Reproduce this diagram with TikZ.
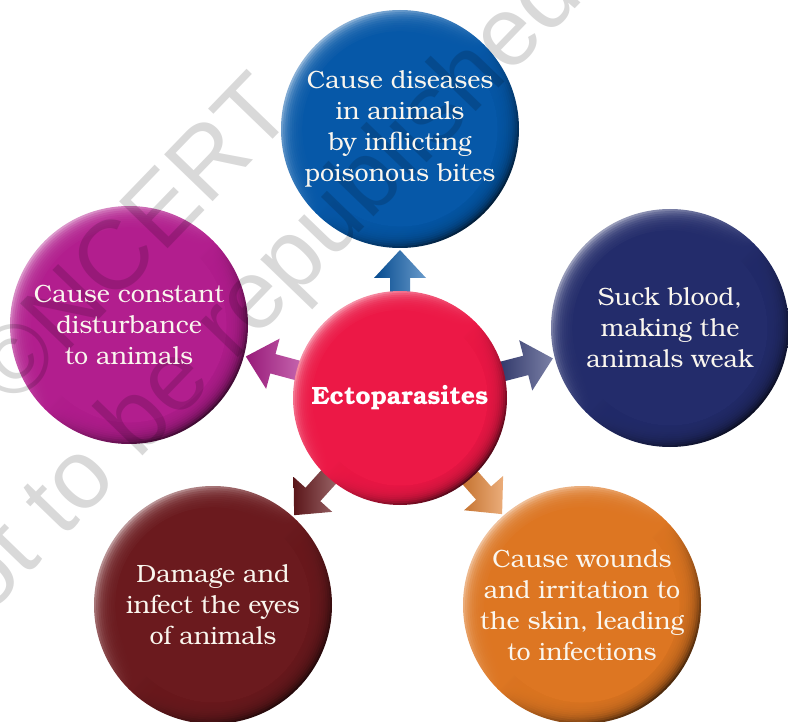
\documentclass[tikz,border=0pt]{standalone}
\usepackage{fontspec}
\setmainfont{texgyrebonum}[Extension=.otf, UprightFont=*-regular, BoldFont=*-bold]
\newfontfamily\wmfont{Liberation Sans}
\usetikzlibrary{calc}

\definecolor{cTop}{RGB}{6,88,168}
\definecolor{cRight}{RGB}{35,44,107}
\definecolor{cLeft}{RGB}{178,30,142}
\definecolor{cCenter}{RGB}{236,24,70}
\definecolor{cBL}{RGB}{107,26,30}
\definecolor{cBR}{RGB}{221,118,34}
\definecolor{txtcol}{RGB}{250,246,238}

\pgfdeclarelayer{bglayer}
\pgfdeclarelayer{wmlayer}
\pgfsetlayers{bglayer,wmlayer,main}

% glossy disc behind a node: #1 node, #2 radius, #3 colour
\newcommand\glossydisc[3]{%
  \shade[top color=#3!45!white, bottom color=#3!35!black, middle color=#3, shading angle=45]
    (#1.center) circle (#2);
  \fill[#3] (#1.center) circle ({0.82*#2});
  \foreach \k in {1,...,9}{%
    \fill[#3, fill opacity=0.25] (#1.center) circle ({(0.82+0.018*\k)*#2});
  }%
}
% block arrow from node #1 towards node #2 in colour #3
\newcommand\blockarrow[3]{%
  \path let \p1=($(#2.center)-(#1.center)$) in
    \pgfextra{\pgfmathsetmacro\arang{atan2(\y1,\x1)}%
              \pgfmathsetmacro\arlen{veclen(\x1,\y1)-121}%
              \global\let\arangG\arang\global\let\arlenG\arlen};
  \begin{scope}[shift={(#1.center)}, rotate=\arangG]
    \shade[left color=#3!85!black, middle color=#3, right color=#3!60!white]
      (90,10) -- ({\arlenG-28},10) -- ({\arlenG-28},26) -- (\arlenG,0)
      -- ({\arlenG-28},-26) -- ({\arlenG-28},-10) -- (90,-10) -- cycle;
  \end{scope}
}

\tikzset{
  lbl/.style={circle, minimum size=236pt, inner sep=0pt, align=center,
              text=txtcol, font=\fontsize{25}{31}\selectfont},
  hub/.style={circle, minimum size=214pt, inner sep=0pt, align=center,
              text=white, font=\fontsize{25}{31}\selectfont\bfseries},
  wmark/.style={rotate=46, text=black, text opacity=0.15, inner sep=0pt,
              font=\wmfont\fontsize{98}{110}\selectfont}
}

\begin{document}
\begin{tikzpicture}[x=1pt, y=-1pt]
  \useasboundingbox (0,0) rectangle (788,722);

  \node[hub] (ecto) at (400,398) {Ectoparasites};
  \node[lbl] (top) at (400,129) {Cause diseases\\in animals\\by inflicting\\poisonous bites};
  \node[lbl] (right) at (670,328) {Suck blood,\\making the\\animals weak};
  \node[lbl] (left) at (129,325) {Cause constant\\disturbance\\to animals};
  \node[lbl] (bl) at (213,605) {Damage and\\infect the eyes\\of animals};
  \node[lbl] (br) at (582,605) {Cause wounds\\and irritation to\\the skin, leading\\to infections};

  \begin{pgfonlayer}{bglayer}
    \glossydisc{top}{119}{cTop}
    \glossydisc{right}{119}{cRight}
    \glossydisc{left}{119}{cLeft}
    \glossydisc{bl}{119}{cBL}
    \glossydisc{br}{119}{cBR}
    \blockarrow{ecto}{top}{cTop}
    \blockarrow{ecto}{right}{cRight}
    \blockarrow{ecto}{left}{cLeft}
    \blockarrow{ecto}{bl}{cBL}
    \blockarrow{ecto}{br}{cBR}
    \glossydisc{ecto}{107}{cCenter}
  \end{pgfonlayer}

  \begin{pgfonlayer}{wmlayer}
    \node[wmark] (wm1) at (131,238) {©NCERT};
    \node[wmark] (wm2) at (249,310) {not to be republished};
  \end{pgfonlayer}
\end{tikzpicture}
\end{document}
